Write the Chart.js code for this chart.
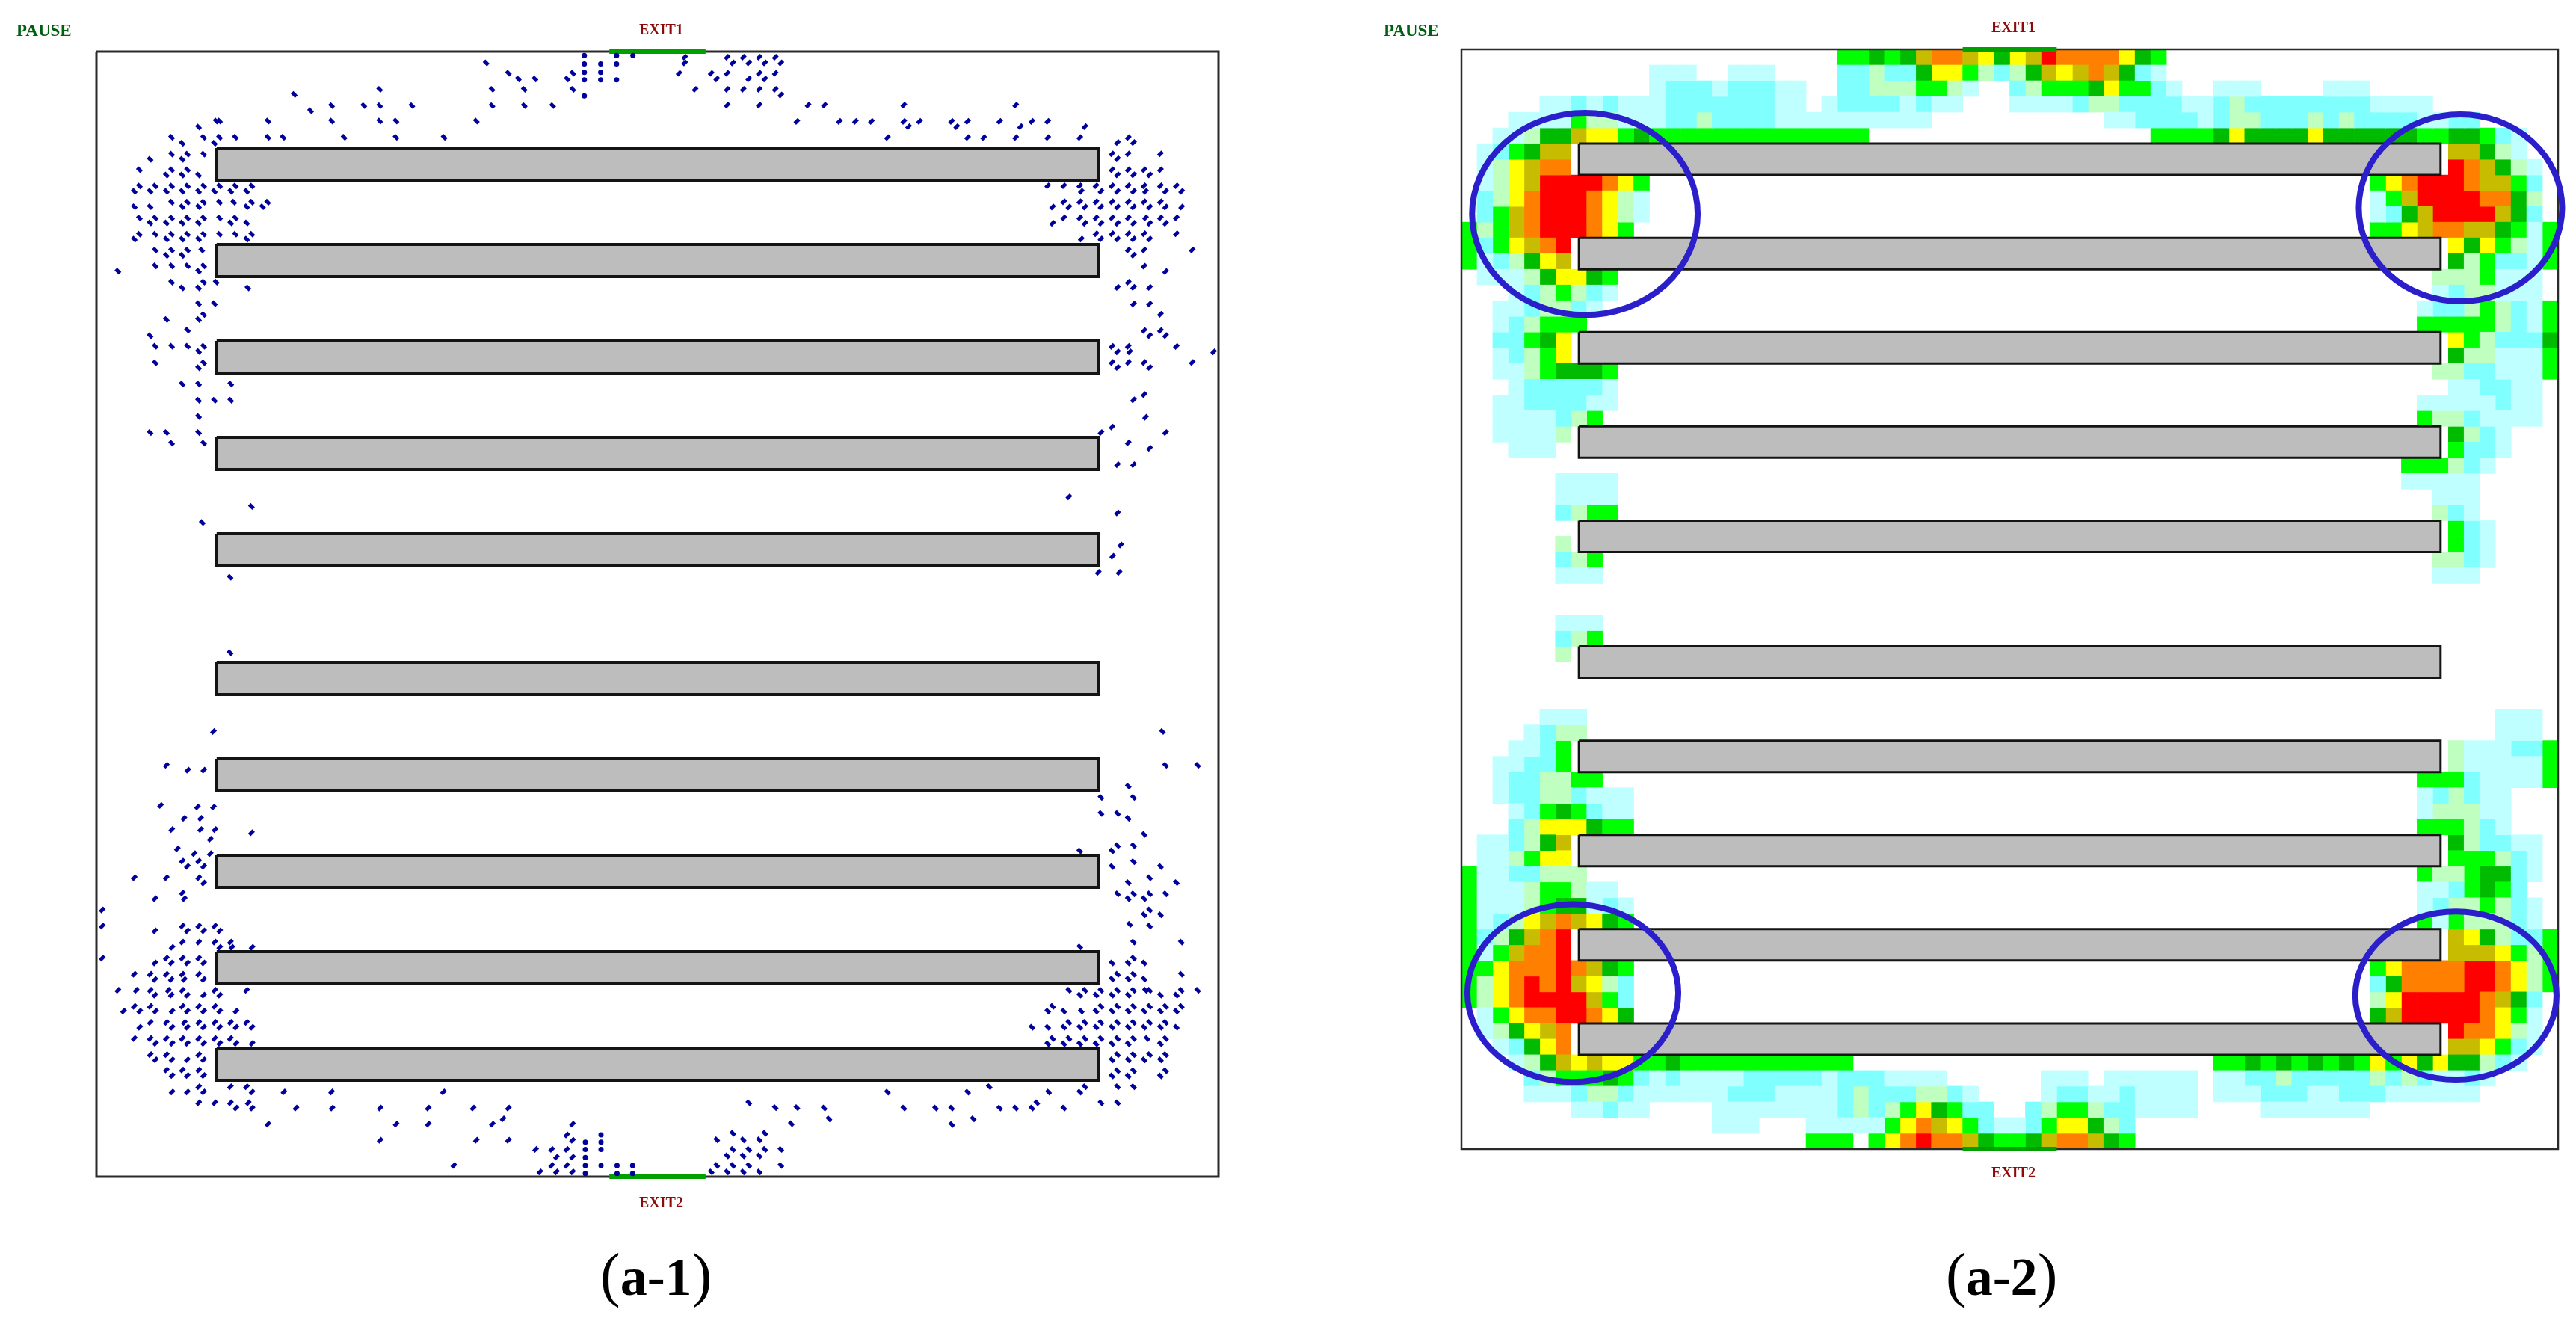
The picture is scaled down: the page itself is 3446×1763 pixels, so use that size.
<!DOCTYPE html>
<html lang="en">

<head>
    <meta charset="UTF-8">
    <title>Pedestrian positions and density map</title>
    <script src="https://cdn.jsdelivr.net/npm/chart.js"></script>
    <style>
        html, body {
            margin: 0;
            background: #fff;
            width: 3446px;
            height: 1763px;
            overflow: hidden;
        }

        canvas {
            position: absolute;
            top: 0;
        }

        .tag {
            position: absolute;
            font-family: "Liberation Serif", serif;
            font-weight: bold;
            line-height: 1;
            white-space: nowrap;
        }

        .caption {
            font-size: 80px;
            font-weight: normal;
            color: #000;
        }

        .caption b {
            font-size: 72px;
            font-weight: bold;
        }
    </style>
</head>

<body>
    <canvas id="panelDots" width="1720" height="1763" style="left:0"></canvas>
    <canvas id="panelHeat" width="1726" height="1763" style="left:1720px"></canvas>

    <div class="tag" style="left:22px;top:29px;font-size:23px;color:#00600f">PAUSE</div>
    <div class="tag" style="left:855px;top:29px;font-size:20px;color:#8b0a0a">EXIT1</div>
    <div class="tag" style="left:855px;top:1598px;font-size:20px;color:#8b0a0a">EXIT2</div>
    <div class="tag caption" style="left:803px;top:1665px">(<b>a-1</b>)</div>

    <div class="tag" style="left:1851px;top:29px;font-size:23px;color:#00600f">PAUSE</div>
    <div class="tag" style="left:2664px;top:26px;font-size:20px;color:#8b0a0a">EXIT1</div>
    <div class="tag" style="left:2664px;top:1558px;font-size:20px;color:#8b0a0a">EXIT2</div>
    <div class="tag caption" style="left:2603px;top:1665px">(<b>a-2</b>)</div>

    <script type="text/javascript">
        // Room is 70 x 70 cells in both panels, y runs down from the top wall
        var roomCells = 70;

        // Shelves
        var rackTop = [6, 12, 18, 24, 30, 38, 44, 50, 56, 62];
        var rackDepth = 2;
        var rackStart = 7.5;
        var rackEnd = 62.5;

        // Exits on the top and bottom wall
        var exitStart = 32;
        var exitEnd = 38;

        // Left panel: people, rows of [y, [x, x, ...]], one list per corner
        var dotsTopLeft = [
            [0.7, [24.31]], [1.34, [25.7, 29.72]], [1.7, [26.32, 27.36, 29.37]],
            [2.35, [17.67, 24.68, 26.69, 29.72]], [2.67, [12.34]],
            [3.36, [14.67, 16.68, 17.67, 19.68, 24.68, 26.69, 28.46]], [3.68, [13.36]],
            [4.32, [7.47, 7.68, 10.7, 14.67, 17.67, 18.69, 23.7]], [4.69, [6.37]],
            [5.33, [4.69, 6.69, 7.68, 8.67, 10.7, 11.65, 15.45, 18.69, 21.69]], [5.7, [5.35, 7.36]],
            [6.38, [4.69, 5.68, 6.69]], [6.7, [3.35, 5.35]],
            [7.35, [2.68, 4.69, 5.68]], [7.68, [4.36, 5.35, 6.37]],
            [8.36, [2.68, 3.67, 4.69, 5.68, 6.69, 7.68, 8.67, 9.69]],
            [8.69, [2.36, 3.35, 4.36, 5.35, 6.37, 7.36, 8.38, 9.37]],
            [9.37, [4.69, 5.68, 6.69, 7.68, 8.57, 9.69, 10.68]],
            [9.65, [2.36, 3.35, 5.35, 6.37, 9.37, 10.36]],
            [10.35, [2.68, 3.67, 4.69, 5.68, 6.69, 7.68, 8.67]],
            [10.66, [3.35, 4.36, 5.35, 6.37, 8.38, 9.37]],
            [11.36, [2.68, 3.67, 4.69, 5.68, 6.69, 7.68, 8.67, 9.69]],
            [11.67, [2.36, 4.36, 5.35, 6.37, 9.37]],
            [12.35, [3.67, 4.69, 5.68, 6.57]], [12.68, [4.36, 5.35]],
            [13.33, [3.67, 4.69, 5.68, 6.69]], [13.66, [1.34, 6.37]],
            [14.34, [4.69, 6.69, 7.47]], [14.7, [5.35, 6.37, 9.45]],
            [15.68, [6.37, 7.36]], [16.36, [6.69]], [16.67, [4.36, 6.37]],
            [17.33, [5.68]], [17.68, [3.35]],
            [18.33, [3.67, 4.69, 5.68, 6.69]], [18.66, [6.37]],
            [19.36, [3.67, 6.69]], [19.67, [6.37]],
            [20.68, [5.35, 6.37, 8.38]], [21.69, [6.37, 7.36, 8.38]], [22.7, [6.37]],
            [23.7, [3.35, 4.36, 6.37]], [24.36, [4.69, 6.69]],
            [28.3, [9.67]], [29.3, [6.6]], [32.7, [8.34]], [37.4, [8.34]]
        ];
        var dotsTopRight = [
            [0.35, [36.7, 39.35, 40.35, 41.35, 42.35]], [0.7, [36.7, 39.7, 40.7, 41.7, 42.7]],
            [1.35, [36.35, 38.35, 39.35, 41.35, 42.35]], [1.7, [38.7, 40.7, 41.7]],
            [2.35, [37.35, 39.35, 40.35, 41.35, 42.35]], [2.7, [42.7]],
            [3.33, [39.35, 41.35, 44.4, 45.42, 50.37, 57.35]],
            [4.34, [43.7, 46.35, 47.35, 48.35, 50.37, 51.35, 53.35, 54.35, 56.35, 58.36, 59.35]],
            [4.67, [50.67, 53.67, 57.65, 61.67]],
            [5.35, [49.35, 54.35, 55.35, 57.35, 59.35, 61.35, 64.37]], [5.66, [63.7, 64.7]],
            [6.36, [63.36, 64.37, 66.38]], [6.67, [63.7]],
            [7.35, [63.36, 64.37, 65.36, 66.38]], [7.67, [63.7, 64.7, 65.7]],
            [8.35, [59.35, 60.35, 61.35, 62.36, 63.36, 64.37, 65.36, 66.38, 67.37]],
            [8.69, [61.44, 62.67, 63.7, 64.7, 65.45, 66.7, 67.7]],
            [9.34, [60.35, 61.35, 62.36, 63.36, 64.37, 65.36, 66.38]],
            [9.67, [59.65, 60.67, 61.67, 62.67, 63.7, 64.7, 65.7, 66.7, 67.7]],
            [10.34, [60.35, 61.35, 62.36, 63.36, 64.37, 65.45, 66.38, 67.37]],
            [10.68, [59.65, 61.67, 62.67, 63.7, 64.7, 65.7, 66.7]],
            [11.33, [62.36, 63.36, 64.37, 65.36, 67.37]],
            [11.66, [61.44, 62.67, 63.7, 64.7, 65.7]],
            [12.34, [64.37, 65.36, 68.36]], [12.67, [64.7]], [13.35, [65.36]], [13.68, [66.7]],
            [14.35, [64.37]], [14.67, [63.7, 64.7, 65.7]], [15.7, [64.7, 65.7]], [16.34, [66.38]],
            [17.35, [65.36, 66.38]], [17.67, [65.7, 66.7]],
            [18.34, [63.36, 64.37, 67.37]], [18.68, [63.7, 64.46, 69.7]],
            [19.34, [63.36, 64.37, 65.36, 68.36]], [19.65, [63.7, 65.7]],
            [21.34, [65.36]], [21.67, [64.7]], [22.75, [65.45]], [23.36, [63.36]],
            [23.7, [62.67, 66.7]], [24.34, [64.37]], [24.68, [65.7]], [25.7, [63.7, 64.7]],
            [27.7, [60.67]], [28.7, [63.7]], [30.7, [63.9]], [31.4, [63.4]],
            [32.4, [62.5, 63.8]]
        ];
        var dotsBottomLeft = [
            [44.4, [4.36]], [44.7, [5.7, 6.7]], [46.9, [4.0]], [47.0, [6.3, 7.3]],
            [47.7, [5.46, 6.5]], [48.4, [4.7, 6.5, 7.4]], [48.6, [9.67]], [49.0, [7.1]],
            [49.6, [5.05]], [49.9, [6.1, 7.1]], [42.3, [7.3]],
            [50.36, [5.36, 6.38]], [50.69, [5.67, 6.69]], [51.4, [2.36, 4.36, 6.38]],
            [51.73, [6.69]], [52.35, [5.36]], [52.7, [3.65, 5.48]], [53.4, [0.36]],
            [54.4, [0.36, 5.36, 6.38, 7.38]], [54.7, [3.65, 5.67, 6.69, 7.69]],
            [55.4, [5.36, 6.38, 7.38, 8.36]], [55.73, [4.72, 7.69, 8.45, 9.71]],
            [56.4, [0.36, 4.36, 5.36, 6.38]], [56.7, [3.65, 4.67, 5.67, 6.69]],
            [57.4, [2.36, 3.36, 4.36, 5.36, 6.38]], [57.73, [3.65, 4.67, 5.48, 6.69]],
            [58.4, [1.34, 2.48, 3.36, 4.48, 5.36, 7.38, 9.36]],
            [58.7, [3.65, 4.67, 5.67, 6.69, 7.69]],
            [59.4, [2.36, 3.36, 5.36, 6.38, 7.38]],
            [59.7, [1.69, 2.7, 3.69, 4.72, 5.67, 6.69, 7.69, 8.71]],
            [60.4, [3.36, 4.36, 5.48, 6.38, 7.38, 8.36, 9.36]],
            [60.7, [2.7, 4.72, 5.67, 6.69, 7.69, 8.71, 9.71]],
            [61.4, [2.36, 3.36, 4.36, 5.36, 6.38, 7.38, 8.36]],
            [61.7, [3.69, 4.72, 5.67, 6.69, 7.69, 8.71, 9.71]],
            [62.4, [3.36, 4.36, 6.38]], [62.72, [3.69, 4.72, 5.67, 6.69]],
            [63.36, [4.36, 5.36, 6.38]], [63.7, [4.72, 5.67, 6.69]],
            [64.4, [6.38, 8.36, 9.36]], [64.73, [4.72, 5.67, 6.69, 9.71, 11.7, 14.67, 21.65]],
            [65.4, [6.38, 7.38, 8.36, 9.47]],
            [65.73, [8.71, 9.71, 12.45, 14.7, 17.7, 20.7, 23.5, 25.7]],
            [66.4, [25.37]], [66.73, [10.7, 18.7, 20.7, 24.7, 29.7]],
            [67.4, [29.34]], [67.73, [17.7, 23.7, 25.7, 29.7]],
            [68.3, [27.4, 28.4, 29.34]], [68.78, [28.7, 29.7]],
            [69.3, [22.3, 28.4, 29.34]], [69.7, [27.67, 28.7, 29.7]]
        ];
        var dotsBottomRight = [
            [42.3, [66.5]], [44.4, [66.7, 68.7]], [45.7, [64.37]], [46.4, [62.67, 64.7]],
            [47.4, [62.67, 63.7]], [47.7, [64.37]], [48.7, [65.36]], [49.4, [63.7, 64.7]],
            [49.73, [61.35, 63.36]], [50.4, [64.7]], [50.7, [63.36, 66.38]], [51.4, [65.7]],
            [51.7, [64.37, 67.37]], [52.4, [63.7, 64.7, 65.7, 66.7]], [52.7, [64.37, 65.36]],
            [53.4, [65.7]], [53.7, [65.36, 66.38]], [54.3, [64.46]], [54.4, [65.7]],
            [55.4, [64.7, 67.68]], [55.7, [61.35]], [56.4, [64.7]], [56.7, [63.36, 64.37, 65.36]],
            [57.4, [63.7, 64.7, 67.68]], [57.7, [63.36, 64.37, 65.36]],
            [58.4, [60.67, 61.67, 62.67, 63.7, 64.7, 65.45, 65.7, 67.68, 68.7]],
            [58.7, [61.35, 62.36, 63.36, 64.37, 66.38, 67.37]],
            [59.4, [59.65, 62.67, 63.7, 64.7, 65.7, 66.7, 67.68]],
            [59.7, [59.35, 60.35, 61.44, 62.36, 63.36, 64.37, 65.36, 66.38, 67.37]],
            [60.4, [60.67, 61.67, 62.67, 63.7, 64.7, 65.7, 66.7]],
            [60.7, [58.36, 59.35, 60.35, 61.35, 62.36, 63.36, 64.37, 65.36, 66.38, 67.37]],
            [61.4, [59.65, 60.67, 61.67, 62.67, 63.7, 64.7, 65.54, 66.7]],
            [61.73, [59.35, 60.35, 61.35, 62.36, 63.36, 64.37, 66.38]],
            [62.4, [63.7, 64.7, 65.7, 66.7]], [62.73, [63.36, 64.37, 65.36, 66.38]],
            [63.4, [63.7, 64.7, 66.7]], [63.73, [63.36, 64.37, 66.38]],
            [64.4, [55.7, 61.67, 63.7, 64.7]], [64.74, [49.35, 54.35, 59.4, 61.35]],
            [65.4, [58.67, 62.67, 63.7]],
            [65.73, [45.4, 50.37, 52.35, 53.35, 56.35, 57.35, 58.36, 60.35]],
            [66.4, [45.7, 54.7]], [66.75, [53.36]],
            [65.4, [40.7]], [65.7, [42.35, 43.7]], [66.7, [43.35]],
            [67.3, [39.7, 41.7]], [67.7, [38.7, 40.35, 41.35]],
            [68.3, [39.7, 40.7, 41.7, 42.7]], [68.7, [39.35, 40.35, 41.35]],
            [69.3, [38.7, 39.7, 40.7, 42.7]], [69.7, [38.35, 39.35, 40.35, 41.35]]
        ];
        // Square marks next to the exits
        var dotsAtExit = [
            [0.24, [30.44, 32.45, 33.47]], [0.77, [30.44, 31.46, 32.45]], [1.29, [30.44, 31.46]],
            [1.75, [30.44, 31.46, 32.45]], [2.76, [30.44]],
            [67.4, [31.48]], [67.85, [30.5, 31.48]], [68.3, [30.5, 31.48]], [68.8, [30.5]],
            [69.3, [30.5, 31.48, 32.48, 33.45]], [69.8, [30.5, 32.48, 33.45]]
        ];

        // Right panel: density cells, [row, first column, one letter per cell]
        var heatCells = [
            [0, 24, 'ggdgdorroydyoRrrrrydg'],
            [1, 12, 'aaa'], [1, 17, 'aaa'], [1, 24, 'bbcbbdyygcbcdoyorodba'],
            [2, 12, 'abbbabbbaa'], [2, 24, 'bbcccggca'], [2, 35, 'bcgggdyggba'], [2, 48, 'aaa'], [2, 55, 'aaa'],
            [3, 5, 'aababaaabbbbbbbaa.abbbbabaa'], [3, 35, 'aaaabccbbbbaabcbbbbbbbbaaaa'],
            [4, 3, 'aaaagccaaabbcbbbbaaaaaaaaaa'], [4, 41, 'aabbbbabccbbbcbcbbbbaabb'],
            [5, 2, 'aacddoyygdgggggggggggggg'], [5, 44, 'ggggdyddddyddddddggddgba'],
            [6, 1, 'abgdoo'], [6, 63, 'oodca'],
            [7, 1, 'acyorr'], [7, 63, 'Rrodca'],
            [8, 1, 'acyoRRRRryg'], [8, 58, 'gyrRRRroogb'],
            [9, 1, 'bcyrRRRryca'], [9, 58, 'agoRRRRrrdc'],
            [10, 1, 'bgorRRRryca'], [10, 58, 'abdoRRRRodb'],
            [11, 0, 'gcgorRRRryg'], [11, 58, 'ggyorroodgag'],
            [12, 0, 'gbgyorR'], [12, 63, 'ydygcag'],
            [13, 0, 'gabcdyo'], [13, 63, 'dcgbbag'],
            [14, 1, 'aaacdyydg'], [14, 62, 'cccgaaa'],
            [15, 3, 'abcgcba'], [15, 62, 'abccaaa'],
            [16, 2, 'aabccba'], [16, 61, 'abbcgcbag'],
            [17, 2, 'abcggg'], [17, 61, 'gggggcbag'],
            [18, 2, 'bbgdy'], [18, 63, 'ygcbbbd'],
            [19, 2, 'abcgy'], [19, 63, 'dccaaag'],
            [20, 2, 'aacgdddg'], [20, 62, 'ccbbaaag'],
            [21, 3, 'abbbbba'], [21, 63, 'aabbaa'],
            [22, 2, 'aabbbbaa'], [22, 61, 'aaaaabaa'],
            [23, 2, 'aaaabcg'], [23, 61, 'gccbaaaa'],
            [24, 2, 'aaaac'], [24, 63, 'dcba'],
            [25, 3, 'aaa'], [25, 63, 'gbba'],
            [26, 60, 'gggcba'],
            [27, 6, 'aaaa'], [27, 60, 'aaaaa'],
            [28, 6, 'aaaa'], [28, 62, 'aaa'],
            [29, 6, 'bcgg'], [29, 62, 'cba'],
            [30, 63, 'gba'],
            [31, 6, 'c'], [31, 63, 'gba'],
            [32, 6, 'bcg'], [32, 62, 'ccba'],
            [33, 6, 'aaa'], [33, 62, 'aaa'],
            [36, 6, 'aaa'], [37, 6, 'bcg'], [38, 6, 'c'],
            [42, 5, 'aaa'], [42, 66, 'aaa'],
            [43, 4, 'abcc'], [43, 66, 'aaa'],
            [44, 3, 'aabg'], [44, 63, 'caaabbg'],
            [45, 2, 'aabbg'], [45, 63, 'caaaaag'],
            [46, 2, 'abbccgg'], [46, 61, 'gggbaaaag'],
            [47, 2, 'abbccbaaa'], [47, 61, 'abcbaa'],
            [48, 3, 'abgdgbaa'], [48, 61, 'acccaa'],
            [49, 3, 'bcyyydgg'], [49, 61, 'gggcba'],
            [50, 1, 'aabcdo'], [50, 63, 'dcbbaa'],
            [51, 1, 'aacgyy'], [51, 63, 'gggcba'],
            [52, 0, 'gaabbccc'], [52, 61, 'gccgddba'],
            [53, 0, 'gaaacggcaa'], [53, 61, 'aabgdgb'],
            [54, 0, 'gaaacgddaba'], [54, 61, 'abccgcba'],
            [55, 0, 'gabcyoroydg'], [55, 61, 'gagcccba'],
            [56, 0, 'gbcdorR'], [56, 63, 'oydcbbg'],
            [57, 0, 'gagorrR'], [57, 63, 'oooygcg'],
            [58, 0, 'ggyrrrRrodg'], [58, 58, 'gyrrrrRRrycg'],
            [59, 0, 'gcyrRrRoycb'], [59, 58, 'bdrrrrRRrycg'],
            [60, 0, 'gcyrRRRRogb'], [60, 58, 'cyRRRRRrodb'],
            [61, 1, 'agyrrRRryd'], [61, 58, 'doRRRRRryga'],
            [62, 1, 'acdyor'], [62, 63, 'Rrryca'],
            [63, 2, 'abdyr'], [63, 63, 'ooygba'],
            [64, 3, 'acdoyoyyggdggggggggggg'], [64, 48, 'ggdgdgdgdgygydyddcba'],
            [65, 4, 'bcgggdgbabaaaabbbbbabbbaaaa'], [65, 37, 'aaa.aaaaaa'], [65, 48, 'aabbcbbbbbcbcbaaba'],
            [66, 4, 'aaabccbaaaaaabbbaaaabcbbbccba'], [66, 37, 'abbaabaaaa'], [66, 48, 'aaabbbaabbbaaaaaa'],
            [67, 7, 'aabaa'], [67, 16, 'aaaaaaaabcbcgydgbb'], [67, 36, 'bcggcbbaaaa'], [67, 51, 'aaaaaaa'],
            [68, 16, 'aaa'], [68, 22, 'aaaaagyroygbaabgyydcb'],
            [69, 22, 'ggg.gyrRrrodggdorrodg']
        ];
        var heatLetters = ['a', 'b', 'c', 'g', 'd', 'y', 'o', 'r', 'R'];
        var heatColours = ['#bfffff', '#80ffff', '#bfffbf', '#00ff00', '#00bb00', '#ffff00', '#c8bc00', '#ff8000', '#ff0000'];

        // Blue rings around the four corners of the right panel, in cells
        var ringX = [7.88, 63.77, 7.11, 63.48];
        var ringY = [10.48, 10.09, 60.07, 60.23];
        var ringRadiusX = [7.2, 6.49, 6.73, 6.42];
        var ringRadiusY = [6.43, 5.95, 5.66, 5.35];

        function expandRows(rows) {
            var points = [];
            rows.forEach(function (row) {
                row[1].forEach(function (x) {
                    points.push({ x: x, y: row[0] });
                });
            });
            return points;
        }

        function outline(x1, y1, x2, y2) {
            return [{ x: x1, y: y1 }, { x: x2, y: y1 }, { x: x2, y: y2 }, { x: x1, y: y2 }, { x: x1, y: y1 }];
        }

        // Walls, shelves and exits are the same in both panels
        function roomDatasets(xAxis, wallWidth, rackWidth) {
            var sets = rackTop.map(function (top) {
                return {
                    type: 'scatter', xAxisID: xAxis, showLine: true, pointRadius: 0, clip: false, order: 3,
                    data: outline(rackStart, top, rackEnd, top + rackDepth),
                    fill: 'shape', backgroundColor: '#bdbdbd', borderColor: '#141414', borderWidth: rackWidth
                };
            });
            sets.push({
                type: 'scatter', xAxisID: xAxis, showLine: true, pointRadius: 0, clip: false, order: 3,
                data: outline(0, 0, roomCells, roomCells), fill: false, borderColor: '#2a2a2a', borderWidth: wallWidth
            });
            [0, roomCells].forEach(function (wall) {
                sets.push({
                    type: 'scatter', xAxisID: xAxis, showLine: true, pointRadius: 0, clip: false, order: 2,
                    data: [{ x: exitStart, y: wall }, { x: exitEnd, y: wall }], borderColor: '#00a000', borderWidth: 6
                });
            });
            return sets;
        }

        function dotDataset(rows, rotation) {
            return {
                type: 'scatter', data: expandRows(rows), clip: false, order: 1, xAxisID: 'x',
                pointStyle: 'line', rotation: rotation, pointRadius: 4,
                pointBorderColor: '#00009c', pointBorderWidth: 5
            };
        }

        function hiddenLinear(reverse) {
            return { type: 'linear', display: false, offset: false, min: 0, max: roomCells, reverse: reverse };
        }

        // Left panel
        var dotSets = roomDatasets('x', 3, 4).concat([
            dotDataset(dotsTopLeft, 45),
            dotDataset(dotsTopRight, -45),
            dotDataset(dotsBottomLeft, -45),
            dotDataset(dotsBottomRight, 45),
            {
                type: 'scatter', data: expandRows(dotsAtExit), clip: false, order: 1, xAxisID: 'x',
                pointStyle: 'circle', pointRadius: 3.5, pointBackgroundColor: '#00009c', pointBorderWidth: 0
            }
        ]);

        new Chart(document.getElementById('panelDots').getContext('2d'), {
            type: 'scatter',
            data: { datasets: dotSets },
            options: {
                responsive: false,
                animation: false,
                layout: { padding: { left: 129, top: 69, right: 90, bottom: 189 } },
                plugins: { legend: { display: false }, tooltip: { enabled: false } },
                scales: { x: hiddenLinear(false), y: hiddenLinear(true) }
            }
        });

        // Right panel
        var columnLabels = [];
        for (var c = 0; c < roomCells; c++) columnLabels.push(c);

        var heatSets = heatLetters.map(function (letter, level) {
            var cells = [];
            heatCells.forEach(function (run) {
                run[2].split('').forEach(function (code, i) {
                    if (code === letter) cells.push({ x: run[1] + i, y: [run[0], run[0] + 1] });
                });
            });
            return {
                type: 'bar', xAxisID: 'x', data: cells, order: 4, grouped: false,
                barPercentage: 1, categoryPercentage: 1, backgroundColor: heatColours[level]
            };
        });

        var ringPlugin = {
            id: 'rings',
            afterDatasetsDraw: function (chart) {
                var xs = chart.scales.xRoom, ys = chart.scales.y, ctx = chart.ctx;
                ctx.save();
                ctx.strokeStyle = '#2b1fcc';
                ctx.lineWidth = 8;
                ringX.forEach(function (x, i) {
                    var rx = xs.getPixelForValue(x + ringRadiusX[i]) - xs.getPixelForValue(x);
                    var ry = ys.getPixelForValue(ringY[i] + ringRadiusY[i]) - ys.getPixelForValue(ringY[i]);
                    ctx.beginPath();
                    ctx.ellipse(xs.getPixelForValue(x), ys.getPixelForValue(ringY[i]), rx, ry, 0, 0, Math.PI * 2);
                    ctx.stroke();
                });
                ctx.restore();
            }
        };

        new Chart(document.getElementById('panelHeat').getContext('2d'), {
            type: 'bar',
            data: { labels: columnLabels, datasets: heatSets.concat(roomDatasets('xRoom', 2.5, 3)) },
            options: {
                responsive: false,
                animation: false,
                layout: { padding: { left: 235, top: 66, right: 24, bottom: 226 } },
                plugins: { legend: { display: false }, tooltip: { enabled: false } },
                scales: {
                    x: { type: 'category', display: false },
                    xRoom: hiddenLinear(false),
                    y: hiddenLinear(true)
                }
            },
            plugins: [ringPlugin]
        });
    </script>
</body>

</html>
